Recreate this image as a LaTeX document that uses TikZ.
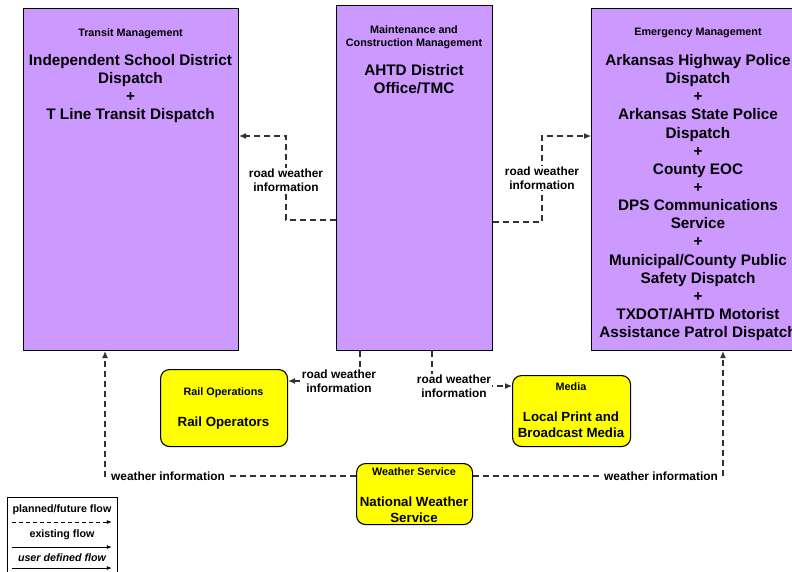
\documentclass[tikz,border=0pt]{standalone}
\usepackage{fontspec}
\setmainfont{Liberation Sans}
\usetikzlibrary{arrows.meta}
\definecolor{purp}{RGB}{204,153,255}
\definecolor{yel}{RGB}{255,255,0}
\definecolor{flowc}{RGB}{50,50,50}
\begin{document}
\begin{tikzpicture}[x=1pt,y=-1pt,
 box/.style={draw=black, line width=1.1pt, fill=purp, inner sep=0pt, anchor=north west},
 ybox/.style={draw=black, line width=1.1pt, fill=yel, rounded corners=9pt, inner sep=0pt, anchor=north west},
 hdr/.style={font=\fontsize{10.8}{13}\selectfont\bfseries, anchor=north, inner sep=0pt, align=center},
 mtxt/.style={font=\fontsize{15.3}{18.15}\selectfont\bfseries, anchor=north, inner sep=0pt, align=center},
 ytxt/.style={font=\fontsize{13.3}{16.8}\selectfont\bfseries, anchor=north, inner sep=0pt, align=center},
 lbl/.style={font=\fontsize{11.9}{14}\selectfont\bfseries, fill=white, inner sep=1pt, align=center},
 legtxt/.style={font=\fontsize{10.7}{12}\selectfont\bfseries, inner sep=0pt},
 flow/.style={draw=flowc, line width=1.1pt, dash pattern=on 6pt off 4pt, -{Latex[length=7pt,width=6pt]}},
 legflow/.style={draw=black, line width=0.8pt, -{Latex[length=5pt,width=4pt]}},
]
\useasboundingbox (0,0) rectangle (792,571);
\clip (0,0) rectangle (792,571);
\fill[white] (0,0) rectangle (792,571);

% boxes
\node[box, minimum width=215pt, minimum height=342pt] (tm) at (23,8) {};
\node[box, minimum width=156pt, minimum height=345pt] (mcm) at (336,5) {};
\node[box, minimum width=215pt, minimum height=342pt] (em) at (591,8) {};
\node[ybox, minimum width=127pt, minimum height=77pt] (ro) at (160,369) {};
\node[ybox, minimum width=118pt, minimum height=71pt] (media) at (512,375) {};
\node[ybox, minimum width=116pt, minimum height=61pt] (ws) at (356,463) {};

% box texts
\node[hdr] (tmh) at (130.5,28.1) {Transit Management};
\node[mtxt] (tmt) at (130.5,54) {Independent School District\\Dispatch\\+\\T Line Transit Dispatch};
\node[hdr] (mcmh) at (414,25.1) {Maintenance and\\Construction Management};
\node[mtxt] (mcmt) at (414,64.3) {AHTD District\\Office/TMC};
\node[hdr] (emh) at (698,28.1) {Emergency Management};
\node[mtxt] (emt) at (698,54.2) {Arkansas Highway Police\\Dispatch\\+\\Arkansas State Police\\Dispatch\\+\\County EOC\\+\\DPS Communications\\Service\\+\\Municipal/County Public\\Safety Dispatch\\+\\TXDOT/AHTD Motorist\\Assistance Patrol Dispatch};
\node[hdr] (roh) at (223.5,387.1) {Rail Operations};
\node[ytxt] (rot) at (223.5,416.2) {Rail Operators};
\node[hdr] (mediah) at (571,382.1) {Media};
\node[ytxt] (mediat) at (571,411.2) {Local Print and\\Broadcast Media};
\node[hdr] (wsh) at (414,467.1) {Weather Service};
\node[ytxt] (wst) at (414,496.2) {National Weather\\Service};

% flows
\draw[flow] (mcm.west |- 0,220) -| (286,136) -- (tm.east |- 0,136);
\draw[flow] (mcm.east |- 0,222) -| (542,136) -- (em.west |- 0,136);
\draw[flow] (mcm.south -| 360,0) -- (360,381) -- (ro.east |- 0,381);
\draw[flow] (mcm.south -| 432,0) |- (media.west |- 0,386);
\draw[flow] (ws.west |- 0,476) -| (tm.south -| 105,0);
\draw[flow] (ws.east |- 0,476) -| (em.south -| 723,0);

% labels
\node[lbl] (l1) at (286,180) {road weather\\information};
\node[lbl] (l2) at (542,178) {road weather\\information};
\node[lbl] (l3) at (339,381) {road weather\\information};
\node[lbl] (l4) at (454,386) {road weather\\information};
\node[lbl] (l5) at (168,476) {weather information};
\node[lbl] (l6) at (661,476) {weather information};

% legend
\node[draw=black, line width=0.8pt, fill=white, anchor=north west, minimum width=110pt, minimum height=90pt, inner sep=0pt] (leg) at (7,497) {};
\node[legtxt] (lg1) at (62,510) {planned/future flow};
\draw[legflow, dash pattern=on 4pt off 3pt] ([xshift=5pt]leg.west |- 0,522) -- ([xshift=-6pt]leg.east |- 0,522);
\node[legtxt] (lg2) at (62,535) {existing flow};
\draw[legflow] ([xshift=5pt]leg.west |- 0,547) -- ([xshift=-6pt]leg.east |- 0,547);
\node[legtxt, font=\fontsize{10.7}{12}\selectfont\bfseries\itshape] (lg3) at (62,558) {user defined flow};
\draw[legflow] ([xshift=5pt]leg.west |- 0,568) -- ([xshift=-6pt]leg.east |- 0,568);
\end{tikzpicture}
\end{document}
